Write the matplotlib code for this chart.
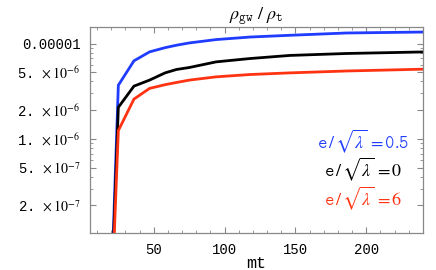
import matplotlib
matplotlib.use("Agg")
import matplotlib.pyplot as plt
from matplotlib.ticker import FixedLocator, NullFormatter

plt.rcParams['mathtext.fontset'] = 'stix'

# sampled times
mt = [20, 25, 36, 47, 58, 66, 75, 94, 118, 146, 186, 240]

# rho_gw / rho_t for each coupling
rho_05 = [2.4e-8, 3.65e-6, 6.58e-6, 8.17e-6, 9.05e-6, 9.6e-6, 1.014e-5,
          1.10e-5, 1.17e-5, 1.22e-5, 1.29e-5, 1.32e-5]
rho_0 = [2.0e-8, 2.14e-6, 3.57e-6, 4.13e-6, 4.92e-6, 5.34e-6, 5.6e-6,
         6.42e-6, 6.96e-6, 7.5e-6, 7.86e-6, 8.16e-6]
rho_6 = [1.6e-8, 1.22e-6, 2.61e-6, 3.38e-6, 3.7e-6, 3.9e-6, 4.13e-6,
         4.47e-6, 4.73e-6, 4.92e-6, 5.15e-6, 5.38e-6]

ytick_vals = [1e-5, 5e-6, 2e-6, 1e-6, 5e-7, 2e-7]
ytick_labels = ['0.00001', r'5. $\times\,10^{-6}$', r'2. $\times\,10^{-6}$',
                r'1. $\times\,10^{-6}$', r'5. $\times\,10^{-7}$', r'2. $\times\,10^{-7}$']
xtick_vals = [50, 100, 150, 200]

blue = '#1f3cff'
red = '#ff3312'
mono = 'Liberation Mono'

fig = plt.figure(figsize=(4.36, 2.70), dpi=100)
ax = fig.add_axes([90 / 436, 1 - 233.3 / 270, 333 / 436, 206 / 270])

ax.plot(mt, rho_05, color=blue, lw=2.0, solid_joinstyle='miter')
ax.plot(mt, rho_0, color='black', lw=2.0, solid_joinstyle='miter')
ax.plot(mt, rho_6, color=red, lw=2.0, solid_joinstyle='miter')

ax.set_yscale('log')
ax.set_xlim(5, 240)
ax.set_ylim(1.02e-7, 1.48e-5)

ax.yaxis.set_major_locator(FixedLocator(ytick_vals))
ax.set_yticklabels(ytick_labels)
minor_y = [m * 10.0 ** e for e in (-7, -6, -5) for m in range(1, 10)]
minor_y = [v for v in minor_y if all(abs(v - t) / t > 1e-6 for t in ytick_vals)]
ax.yaxis.set_minor_locator(FixedLocator(minor_y))
ax.yaxis.set_minor_formatter(NullFormatter())

ax.xaxis.set_major_locator(FixedLocator(xtick_vals))
ax.xaxis.set_minor_locator(FixedLocator(list(range(10, 241, 10))))

for lab in ax.get_xticklabels() + ax.get_yticklabels():
    lab.set_fontfamily([mono, 'DejaVu Sans'])
    lab.set_fontsize(10)

ax.tick_params(which='both', direction='in', top=True, right=True,
               color='#888888')
ax.tick_params(which='major', length=4, width=0.8, pad=7)
ax.tick_params(which='minor', length=2.2, width=0.6)
for sp in ax.spines.values():
    sp.set_color('#888888')
    sp.set_linewidth(0.9)

ax.set_xlabel('mt', family=mono, fontsize=12, labelpad=-1)
ax.set_title(r'$\rho_{\mathtt{gw}}\ /\ \rho_{\mathtt{t}}$', fontsize=13, pad=3)

ax.text(0.82, 0.445, r'$\mathtt{e}\,/\,\sqrt{\lambda}\,=\mathtt{0.5}$', color=blue,
        transform=ax.transAxes, ha='center', va='center', fontsize=13)
ax.text(0.82, 0.31, r'$\mathtt{e}\,/\,\sqrt{\lambda}\,=0$', color='black',
        transform=ax.transAxes, ha='center', va='center', fontsize=13)
ax.text(0.82, 0.17, r'$\mathtt{e}\,/\,\sqrt{\lambda}\,=6$', color=red,
        transform=ax.transAxes, ha='center', va='center', fontsize=13)

fig.savefig('out.png', dpi=100)
